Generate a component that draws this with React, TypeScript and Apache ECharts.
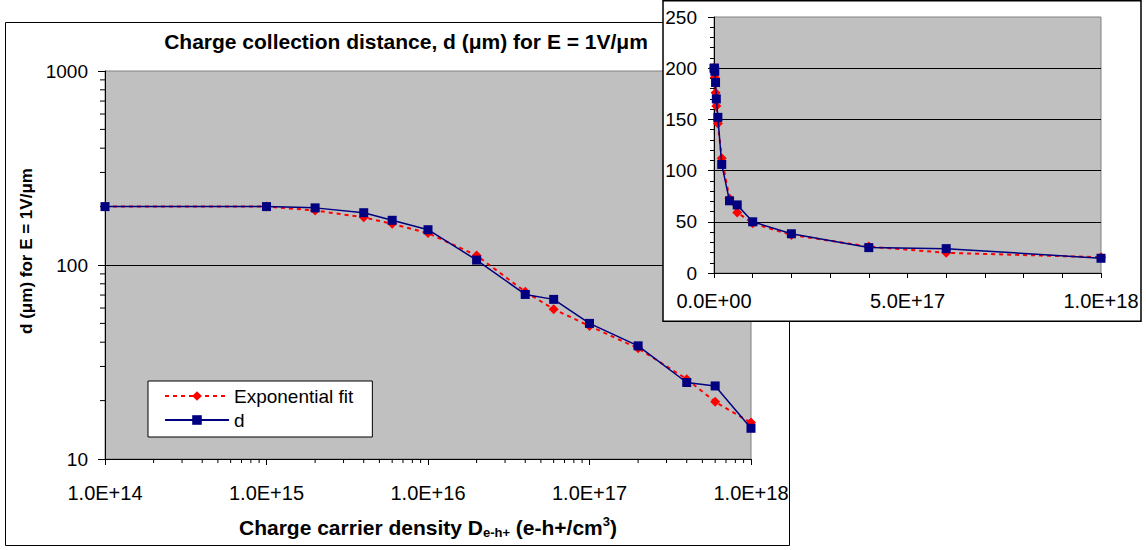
import React, { useEffect, useRef } from 'react';
import * as echarts from 'echarts';

// ---- data ----
const densities = [1e14, 1e15, 2e15, 4e15, 6e15, 1e16, 2e16, 4e16, 6e16, 1e17, 2e17, 4e17, 6e17, 1e18];
const dValues = [200, 200, 197, 186, 170, 152, 106, 70.5, 66.5, 50, 38.3, 24.8, 23.8, 14.4];
const fitValues = [200.5, 200, 191, 176, 163, 146, 112, 72.8, 59.2, 48.5, 37.2, 25.8, 19.7, 15.4];

const seriesNames = ['Exponential fit', 'd'];
const titleText = 'Charge collection distance, d (\u03bcm) for E = 1V/\u03bcm';
const yTitleText = 'd (\u03bcm) for E = 1V/\u03bcm';
const xTitleRich = 'Charge carrier density D{sub|e-h+} (e-h+/cm{sup|3})';

const mainXDecades = [14, 15, 16, 17, 18];
const mainYDecades = [1, 2, 3];
const minorMultipliers = [2, 3, 4, 5, 6, 7, 8, 9];
const insetXLabelValues = [0, 5e17, 1e18];

const FONT = '"Liberation Sans", Arial, sans-serif';

const mainXMinor: number[] = [];
mainXDecades.slice(0, -1).forEach((e) => minorMultipliers.forEach((m) => mainXMinor.push(m * Math.pow(10, e))));
const mainYMinor: number[] = [];
mainYDecades.slice(0, -1).forEach((e) => minorMultipliers.forEach((m) => mainYMinor.push(m * Math.pow(10, e))));

const fmtE = (v: number) => {
  if (v === 0) return '0.0E+00';
  const e = Math.floor(Math.log10(v) + 1e-9);
  const m = v / Math.pow(10, e);
  return m.toFixed(1) + 'E+' + String(e).padStart(2, '0');
};

const pairs = (ys: number[]) => densities.map((x, i) => [x, ys[i]]);

export default function App() {
  const ref = useRef<HTMLDivElement>(null);
  useEffect(() => {
    if (!ref.current) return;
    const chart = echarts.init(ref.current, null, { renderer: 'svg' });
    const fitStyle = {
      symbol: 'diamond',
      symbolSize: 10,
      itemStyle: { color: '#FF0000' },
      lineStyle: { color: '#FF0000', width: 2, type: [4, 4] as any },
    };
    const dStyle = {
      symbol: 'rect',
      symbolSize: 9,
      itemStyle: { color: '#000080' },
      lineStyle: { color: '#000080', width: 1.5 },
    };
    const option: any = {
      animation: false,
      backgroundColor: '#ffffff',
      textStyle: { fontFamily: FONT },
      grid: [
        { left: 105, top: 71, width: 646, height: 388, show: true, backgroundColor: '#C0C0C0', borderColor: '#808080', borderWidth: 1, z: 1 },
        { left: 714, top: 17, width: 387, height: 256, show: true, backgroundColor: '#C0C0C0', borderColor: '#808080', borderWidth: 1, z: 6 },
      ],
      xAxis: [
        {
          type: 'log', logBase: 10, gridIndex: 0, min: 1e14, max: 1e18, position: 'bottom', z: 1,
          axisLine: { show: true, onZero: false, lineStyle: { color: '#000', width: 1 } },
          axisTick: { show: true, length: 6, lineStyle: { color: '#000' } },
          axisLabel: { margin: 24, fontSize: 20, color: '#000', fontFamily: FONT, formatter: fmtE },
          splitLine: { show: false },
        },
        {
          type: 'value', gridIndex: 1, min: 0, max: 1e18, interval: 1e17, position: 'bottom', z: 6,
          axisLine: { show: true, onZero: false, lineStyle: { color: '#000', width: 1 } },
          axisTick: { show: true, length: 5, lineStyle: { color: '#000' } },
          axisLabel: {
            margin: 18, fontSize: 20, color: '#000', fontFamily: FONT, showMinLabel: true, showMaxLabel: true,
            formatter: (v: number) => (insetXLabelValues.some((t) => Math.abs(t - v) < 1e12) ? fmtE(v) : ''),
          },
          splitLine: { show: false },
        },
      ],
      yAxis: [
        {
          type: 'log', logBase: 10, gridIndex: 0, min: 10, max: 1000, position: 'left', z: 1,
          axisLine: { show: true, onZero: false, lineStyle: { color: '#000', width: 1 } },
          axisTick: { show: true, length: 7, lineStyle: { color: '#000' } },
          axisLabel: { margin: 17, fontSize: 19, color: '#000', fontFamily: FONT, formatter: (v: number) => String(Math.round(v)) },
          splitLine: { show: true, showMinLine: false, showMaxLine: false, lineStyle: { color: '#000', width: 1 } },
        },
        {
          type: 'value', gridIndex: 1, min: 0, max: 250, interval: 50, position: 'left', z: 6,
          axisLine: { show: true, onZero: false, lineStyle: { color: '#000', width: 1 } },
          axisTick: { show: true, length: 6, lineStyle: { color: '#000' } },
          minorTick: { show: true, splitNumber: 5, length: 4, lineStyle: { color: '#000' } },
          axisLabel: { margin: 17, fontSize: 19, color: '#000', fontFamily: FONT },
          splitLine: { show: true, showMinLine: false, showMaxLine: false, lineStyle: { color: '#000', width: 1 } },
        },
      ],
      legend: {
        data: seriesNames,
        orient: 'vertical',
        left: 148,
        top: 381,
        itemWidth: 64,
        itemHeight: 12,
        itemGap: 2,
        padding: [4, 19, 6, 16],
        backgroundColor: '#ffffff',
        borderColor: '#000000',
        borderWidth: 1,
        selectedMode: false,
        textStyle: { fontSize: 19, color: '#000', fontFamily: FONT, lineHeight: 22 },
        z: 4,
      },
      series: [
        { name: seriesNames[0], type: 'line', xAxisIndex: 0, yAxisIndex: 0, data: pairs(fitValues), z: 2, ...fitStyle },
        { name: seriesNames[1], type: 'line', xAxisIndex: 0, yAxisIndex: 0, data: pairs(dValues), z: 3, ...dStyle },
        { name: seriesNames[0], type: 'line', xAxisIndex: 1, yAxisIndex: 1, data: pairs(fitValues), z: 7, ...fitStyle },
        { name: seriesNames[1], type: 'line', xAxisIndex: 1, yAxisIndex: 1, data: pairs(dValues), z: 8, ...dStyle },
        {
          name: 'xMinorTicks', type: 'custom', xAxisIndex: 0, yAxisIndex: 0, z: 3, silent: true,
          data: mainXMinor.map((v) => [v, 10]),
          renderItem: (_p: any, api: any) => {
            const p = api.coord([api.value(0), api.value(1)]);
            return { type: 'line', shape: { x1: p[0], y1: p[1], x2: p[0], y2: p[1] + 4 }, style: { stroke: '#000', lineWidth: 1 } };
          },
        },
        {
          name: 'yMinorTicks', type: 'custom', xAxisIndex: 0, yAxisIndex: 0, z: 3, silent: true,
          data: mainYMinor.map((v) => [1e14, v]),
          renderItem: (_p: any, api: any) => {
            const p = api.coord([api.value(0), api.value(1)]);
            return { type: 'line', shape: { x1: p[0] - 5, y1: p[1], x2: p[0], y2: p[1] }, style: { stroke: '#000', lineWidth: 1 } };
          },
        },
      ],
      graphic: [
        {
          type: 'rect', z: 0, silent: true,
          shape: { x: 5.5, y: 22.5, width: 784, height: 523 },
          style: { fill: '#ffffff', stroke: '#000000', lineWidth: 1 },
        },
        {
          type: 'rect', z: 5, silent: true,
          shape: { x: 663, y: 0.75, width: 478, height: 320.5 },
          style: { fill: '#ffffff', stroke: '#000000', lineWidth: 1.5 },
        },
        {
          type: 'text', z: 3, x: 406, y: 41, silent: true,
          style: {
            text: titleText, fontSize: 21, fontWeight: 'bold', fontFamily: FONT, fill: '#000',
            align: 'center', verticalAlign: 'middle', textAlign: 'center', textVerticalAlign: 'middle',
          },
        },
        {
          type: 'text', z: 3, x: 26, y: 251, rotation: Math.PI / 2, silent: true,
          style: {
            text: yTitleText, fontSize: 17, fontWeight: 'bold', fontFamily: FONT, fill: '#000',
            align: 'center', verticalAlign: 'middle', textAlign: 'center', textVerticalAlign: 'middle',
          },
        },
        {
          type: 'text', z: 3, x: 428, y: 527, silent: true,
          style: {
            text: xTitleRich, fontSize: 21, fontWeight: 'bold', fontFamily: FONT, fill: '#000', lineHeight: 24,
            align: 'center', verticalAlign: 'middle', textAlign: 'center', textVerticalAlign: 'middle',
            rich: {
              sub: { fontSize: 13, fontWeight: 'bold', fontFamily: FONT, fill: '#000', verticalAlign: 'bottom', lineHeight: 12 },
              sup: { fontSize: 13, fontWeight: 'bold', fontFamily: FONT, fill: '#000', verticalAlign: 'top', lineHeight: 12 },
            },
          },
        },
      ],
    };
    chart.setOption(option);
    return () => chart.dispose();
  }, []);
  return <div ref={ref} style={{ position: 'absolute', left: 0, top: 0, width: 1146, height: 550 }} />;
}
